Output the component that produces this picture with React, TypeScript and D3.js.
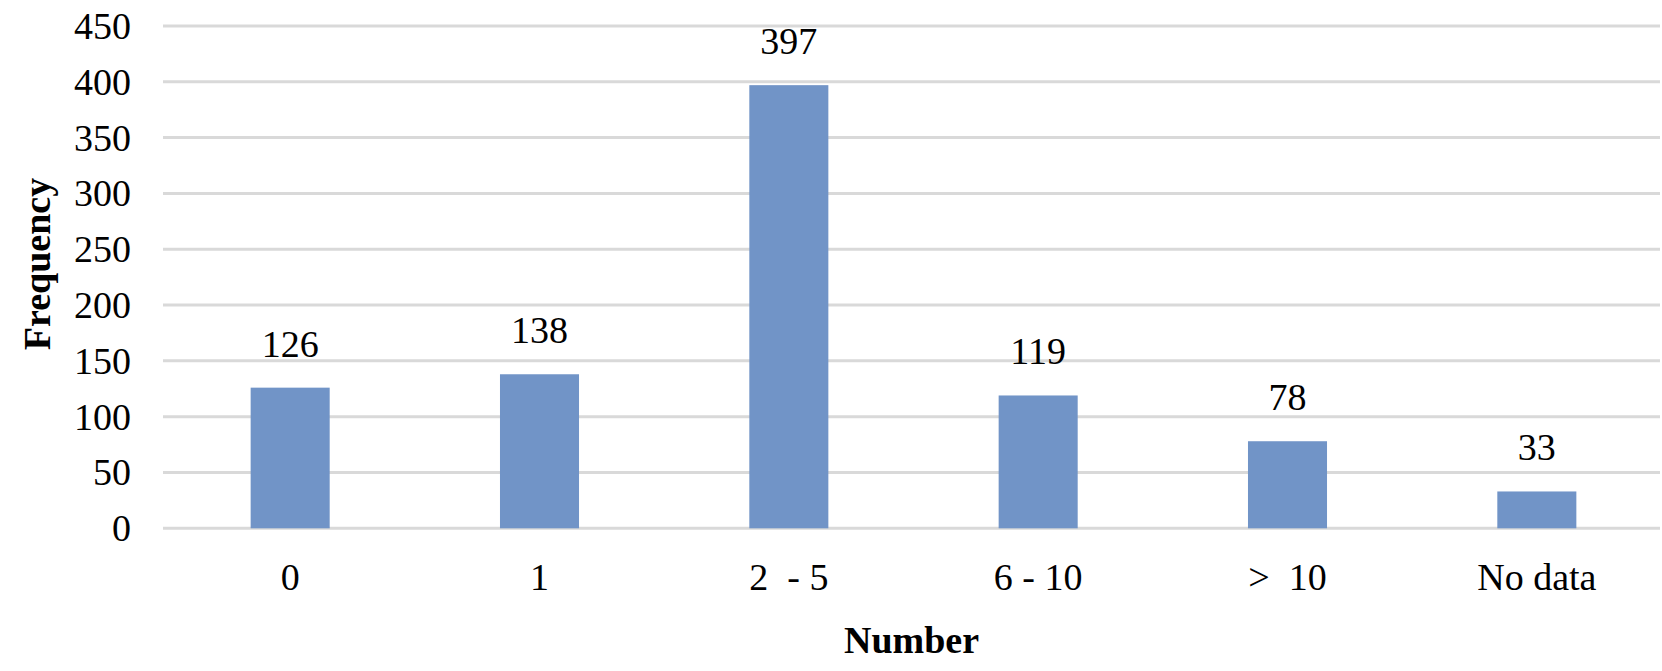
import React from "react";
import * as d3 from "d3";

const categories = ["0", "1", "2  - 5", "6 - 10", ">  10", "No data"];
const values = [126, 138, 397, 119, 78, 33];
const yTicks = [0, 50, 100, 150, 200, 250, 300, 350, 400, 450];

const W = 1662;
const H = 671;
const left = 163;
const right = 1660;
const top = 26;
const bottom = 528.3;
const FONT = "'Liberation Serif', 'Times New Roman', serif";

export default function App() {
  const x = d3.scaleBand<string>().domain(categories).range([left + 2.5, right + 1.5]).paddingInner(0.683).paddingOuter(0.3415);
  const y = d3.scaleLinear().domain([0, 450]).range([bottom, top]);
  return (
    <svg width={W} height={H} style={{ position: "absolute", left: 0, top: 0, background: "#fff" }}>
      {yTicks.map((t) => (
        <g key={t}>
          <line x1={left} x2={right} y1={y(t)} y2={y(t)} stroke="#d9d9d9" strokeWidth={3} />
          <text x={131} y={y(t) + 13} textAnchor="end" fontFamily={FONT} fontSize={38} fill="#000">
            {t}
          </text>
        </g>
      ))}
      {categories.map((c, i) => (
        <g key={c}>
          <rect x={x(c)} y={y(values[i])} width={x.bandwidth()} height={y(0) - y(values[i])} fill="#7194c7" />
          <text x={(x(c) as number) + x.bandwidth() / 2} y={y(values[i]) - 31} textAnchor="middle" fontFamily={FONT} fontSize={38} fill="#000">
            {values[i]}
          </text>
          <text x={(x(c) as number) + x.bandwidth() / 2} y={590} textAnchor="middle" fontFamily={FONT} fontSize={38} fill="#000" style={{ whiteSpace: "pre" }}>
            {c}
          </text>
        </g>
      ))}
      <text x={(left + right) / 2} y={653} textAnchor="middle" fontFamily={FONT} fontSize={38} fontWeight="bold" fill="#000">
        Number
      </text>
      <text transform={`translate(50,264) rotate(-90)`} textAnchor="middle" fontFamily={FONT} fontSize={38} fontWeight="bold" fill="#000">
        Frequency
      </text>
    </svg>
  );
}
